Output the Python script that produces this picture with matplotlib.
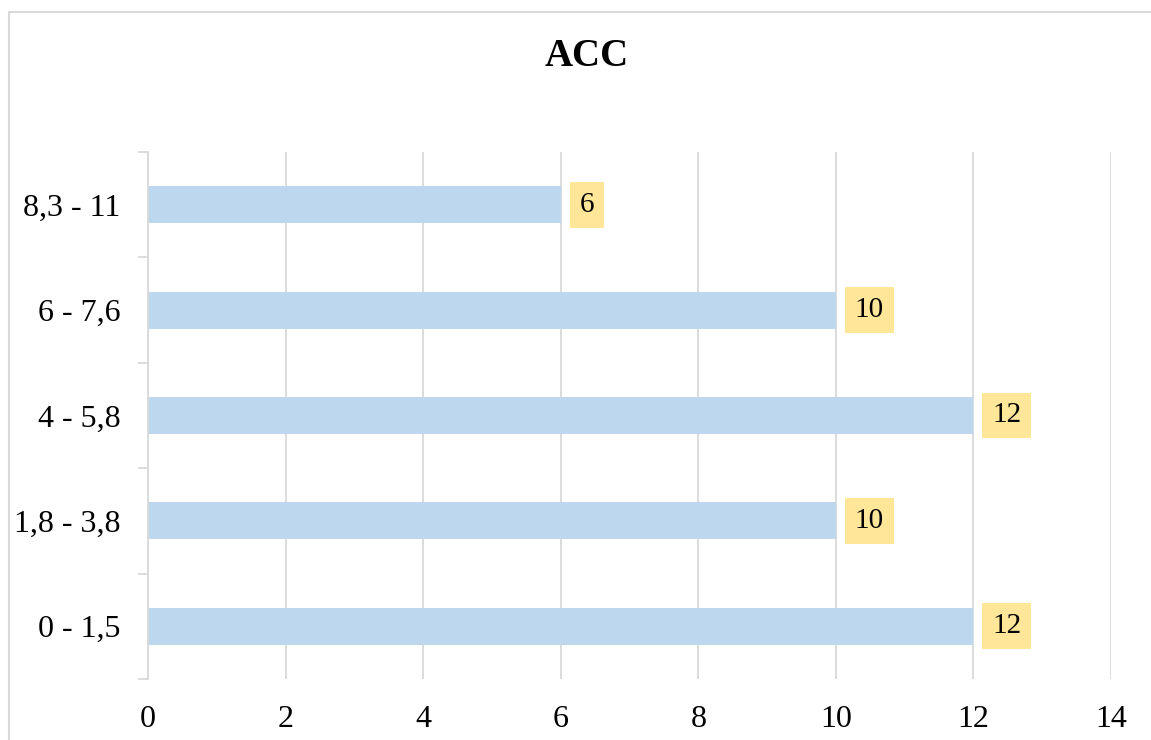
import matplotlib.pyplot as plt
from matplotlib.patches import Rectangle

# ranges and counts
categories = ["0 - 1,5", "1,8 - 3,8", "4 - 5,8", "6 - 7,6", "8,3 - 11"]
counts = [12, 10, 12, 10, 6]
x_ticks = [0, 2, 4, 6, 8, 10, 12, 14]

plt.rcParams['font.family'] = ['Liberation Serif', 'DejaVu Serif']

W, H = 1151, 740
fig = plt.figure(figsize=(W / 100, H / 100), dpi=100)

# chart border (left and top visible, rest runs off the canvas)
fig.patches.append(Rectangle((8.5 / W, -0.1), 1.2, (H - 12.5) / H + 0.1,
                             transform=fig.transFigure, fill=False,
                             edgecolor='#d9d9d9', linewidth=1.5))

left, right = 148 / W, 1111 / W
top, bottom = 1 - 152 / H, 1 - 679 / H
ax = fig.add_axes([left, bottom, right - left, top - bottom])

ypos = list(range(len(categories)))
ax.barh(ypos, counts, height=0.35, color='#bdd7ee', zorder=2)

ax.set_xlim(0, 14)
ax.set_ylim(-0.5, len(categories) - 0.5)
ax.set_xticks(x_ticks)
ax.set_xticklabels([str(t) for t in x_ticks], fontsize=23)
ax.set_yticks(ypos)
ax.set_yticklabels(categories, fontsize=23)
ax.tick_params(axis='x', length=0, pad=19)
ax.tick_params(axis='y', length=0, pad=20)

# category separator ticks on the y axis
ax.set_yticks([i - 0.5 for i in range(len(categories) + 1)], minor=True)
ax.tick_params(axis='y', which='minor', length=7, color='#d9d9d9', width=1.3)

ax.grid(axis='x', color='#d9d9d9', linewidth=1.3, zorder=0)
for s in ['top', 'right', 'bottom']:
    ax.spines[s].set_visible(False)
ax.spines['left'].set_color('#d9d9d9')
ax.spines['left'].set_linewidth(1.3)

# value labels in yellow boxes
for y, v in zip(ypos, counts):
    ax.annotate(str(v), xy=(v, y), xytext=(13.5, 0), textcoords='offset points',
                ha='left', va='center', fontsize=21,
                bbox=dict(boxstyle='square,pad=0.34', facecolor='#ffe699',
                          edgecolor='none'), zorder=3)

fig.text(587 / W, 1 - 57 / H, "ACC", ha='center', va='center',
         fontsize=28, fontweight='bold')

fig.savefig('out.png', dpi=100)
